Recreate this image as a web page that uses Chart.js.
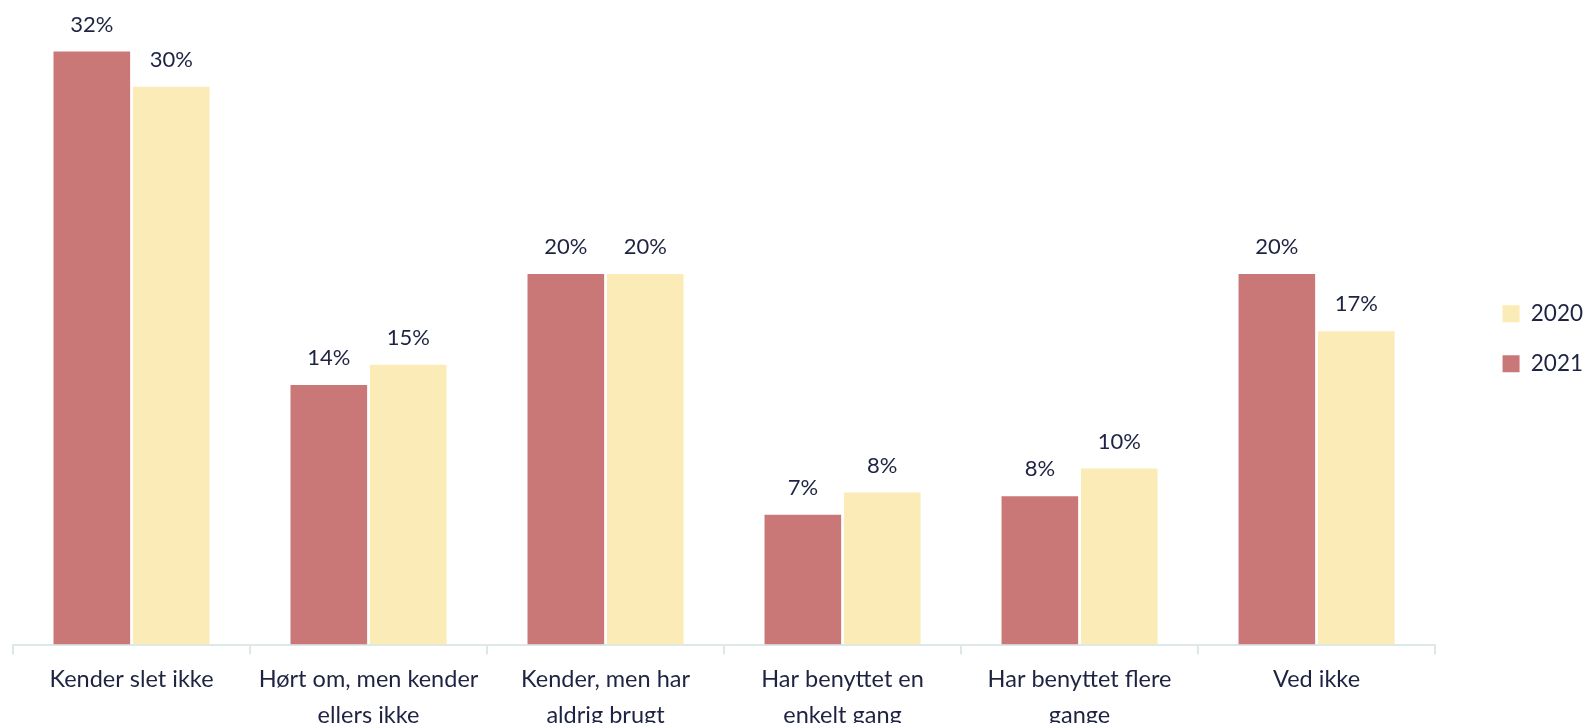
<!DOCTYPE html>
<html>
<head>
<meta charset="utf-8">
<script src="https://cdn.jsdelivr.net/npm/chart.js@4/dist/chart.umd.min.js"></script>
<style>
html,body{margin:0;padding:0;background:#fff;overflow:hidden;}
#wrap{width:1587px;height:740px;position:relative;}
</style>
</head>
<body>
<div id="wrap"><canvas id="c"></canvas></div>
<script>
const categories = [
  'Kender slet ikke',
  ['Hørt om, men kender', 'ellers ikke'],
  ['Kender, men har', 'aldrig brugt'],
  ['Har benyttet en', 'enkelt gang'],
  ['Har benyttet flere', 'gange'],
  'Ved ikke'
];
const values2021 = [32, 14, 20, 7, 8, 20];
const values2020 = [30.1, 15.1, 20, 8.2, 9.5, 16.9];
const labels2021 = ['32%', '14%', '20%', '7%', '8%', '20%'];
const labels2020 = ['30%', '15%', '20%', '8%', '10%', '17%'];

const textColor = '#1e2342';
const fontFamily = 'Lato, "Open Sans", sans-serif';

const valueLabelPlugin = {
  id: 'valueLabels',
  afterDatasetsDraw(chart) {
    const ctx = chart.ctx;
    ctx.save();
    ctx.font = '22px ' + fontFamily;
    ctx.fillStyle = textColor;
    ctx.textAlign = 'center';
    ctx.textBaseline = 'middle';
    chart.data.datasets.forEach((ds, i) => {
      const meta = chart.getDatasetMeta(i);
      meta.data.forEach((bar, j) => {
        ctx.fillText(ds.valueLabels[j], bar.x, bar.y - 27);
      });
    });
    ctx.restore();
  }
};

new Chart(document.getElementById('c'), {
  type: 'bar',
  data: {
    labels: categories,
    datasets: [
      { label: '2021', data: values2021, valueLabels: labels2021, backgroundColor: '#C97777', borderWidth: 0 },
      { label: '2020', data: values2020, valueLabels: labels2020, backgroundColor: '#FBEBB6', borderWidth: 0 }
    ]
  },
  options: {
    responsive: true,
    maintainAspectRatio: false,
    animation: false,
    layout: { padding: { top: 33, left: 13, right: -6, bottom: 0 } },
    datasets: { bar: { categoryPercentage: 0.67, barPercentage: 0.965 } },
    plugins: {
      legend: {
        position: 'right',
        fullSize: false,
        reverse: true,
        labels: {
          boxWidth: 17, boxHeight: 17,
          font: { size: 22.5, family: fontFamily },
          color: textColor,
          padding: 27.5
        }
      },
      tooltip: { enabled: false }
    },
    scales: {
      y: {
        display: true, position: 'right', min: 0, max: 33,
        ticks: { display: false }, grid: { display: false }, border: { display: false },
        afterFit(scale) { scale.width = 40; }
      },
      x: {
        border: { display: true, color: '#dde8e8', width: 2 },
        grid: { display: true, drawOnChartArea: false, drawTicks: true, tickLength: 10, color: '#dde8e8', lineWidth: 2 },
        ticks: { color: textColor, font: { size: 23.5, family: fontFamily, lineHeight: 1.52 }, padding: 7, maxRotation: 0, autoSkip: false }
      }
    }
  },
  plugins: [valueLabelPlugin]
});
</script>
</body>
</html>
